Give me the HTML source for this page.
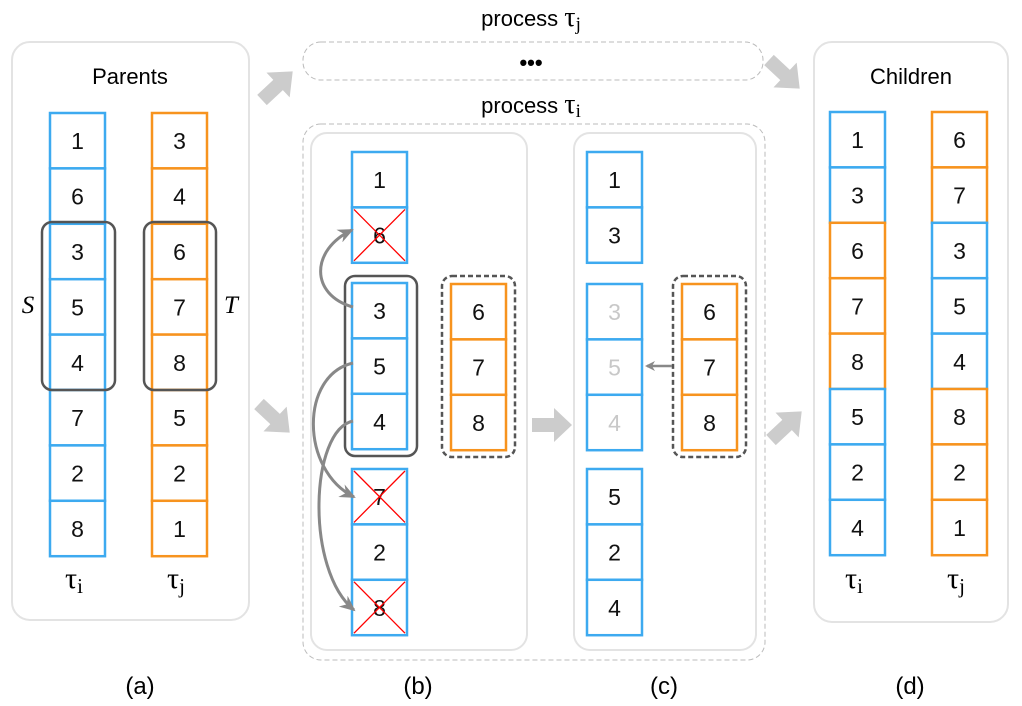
<!DOCTYPE html>
<html><head><meta charset="utf-8"><style>
body{margin:0;background:#fff;}
svg{display:block;font-family:"Liberation Sans",sans-serif;}
</style></head><body>
<svg id="s" width="1022" height="706" viewBox="0 0 1022 706">
<defs>
<marker id="ah" markerWidth="10" markerHeight="10" refX="8" refY="5" orient="auto" markerUnits="userSpaceOnUse"><path d="M0,0 L10,5 L0,10 L3,5 Z" fill="#888"/></marker>
<marker id="ah2" markerWidth="16" markerHeight="14" refX="14" refY="7" orient="auto" markerUnits="userSpaceOnUse"><path d="M0,0 L16,7 L0,14 L5,7 Z" fill="#888"/></marker>
</defs>
<rect x="12" y="42" width="237" height="578" rx="18" fill="none" stroke="#e3e3e3" stroke-width="2"/>
<rect x="814" y="42" width="194" height="580" rx="18" fill="none" stroke="#e3e3e3" stroke-width="2"/>
<rect x="303" y="42" width="460" height="38" rx="18" fill="none" stroke="#bbb" stroke-width="1" stroke-dasharray="5,3"/>
<rect x="303" y="124" width="462" height="536" rx="18" fill="none" stroke="#bbb" stroke-width="1" stroke-dasharray="5,3"/>
<rect x="311" y="133" width="216" height="517" rx="16" fill="none" stroke="#e3e3e3" stroke-width="2"/>
<rect x="574" y="133" width="182" height="517" rx="16" fill="none" stroke="#e3e3e3" stroke-width="2"/>
<text x="130" y="84" font-size="22" text-anchor="middle">Parents</text>
<text x="911" y="84" font-size="22" text-anchor="middle">Children</text>
<text x="531" y="26" font-size="22" text-anchor="middle">process <tspan font-family="Liberation Serif" font-size="28">τ</tspan><tspan font-family="Liberation Serif" font-size="19" dy="4">j</tspan></text>
<text x="531" y="113" font-size="22" text-anchor="middle">process <tspan font-family="Liberation Serif" font-size="28">τ</tspan><tspan font-family="Liberation Serif" font-size="19" dy="4">i</tspan></text>
<text x="531" y="70" font-size="22" font-weight="bold" text-anchor="middle">•••</text>
<g id="cells"></g>
<rect x="42" y="222" width="73" height="168" rx="10" fill="none" stroke="#555" stroke-width="2.5"/>
<rect x="144" y="222" width="72" height="168" rx="10" fill="none" stroke="#555" stroke-width="2.5"/>
<rect x="345" y="276" width="72" height="180" rx="10" fill="none" stroke="#555" stroke-width="2.5"/>
<rect x="442" y="276" width="73" height="181" rx="10" fill="none" stroke="#555" stroke-width="2.5" stroke-dasharray="5,3"/>
<rect x="673" y="276" width="73" height="181" rx="10" fill="none" stroke="#555" stroke-width="2.5" stroke-dasharray="5,3"/>
<text x="28" y="313" font-size="25" font-style="italic" font-family="Liberation Serif" text-anchor="middle">S</text>
<text x="231" y="313" font-size="25" font-style="italic" font-family="Liberation Serif" text-anchor="middle">T</text>
<path d="M353,307 C310,295 310,250 352,230" fill="none" stroke="#888" stroke-width="3" marker-end="url(#ah2)"/>
<path d="M353,363 C300,375 300,470 354,497" fill="none" stroke="#888" stroke-width="3" marker-end="url(#ah2)"/>
<path d="M353,421 C310,430 305,570 354,610" fill="none" stroke="#888" stroke-width="3" marker-end="url(#ah2)"/>
<path d="M672,366 L647,366" fill="none" stroke="#888" stroke-width="2.5" marker-end="url(#ah)"/>
<g fill="#cccccc">
<path d="M0,-7 L22,-7 L22,-17 L42,0 L22,17 L22,7 L0,7 Z" transform="translate(262,100) rotate(-43)"/>
<path d="M0,-7 L22,-7 L22,-17 L42,0 L22,17 L22,7 L0,7 Z" transform="translate(259,404) rotate(43)"/>
<path d="M0,-7 L22,-7 L22,-17 L40,0 L22,17 L22,7 L0,7 Z" transform="translate(532,425)"/>
<path d="M0,-7 L22,-7 L22,-17 L42,0 L22,17 L22,7 L0,7 Z" transform="translate(771,440) rotate(-43)"/>
<path d="M0,-7 L22,-7 L22,-17 L42,0 L22,17 L22,7 L0,7 Z" transform="translate(769,60) rotate(43)"/>
</g>
<g font-size="24" text-anchor="middle">
<text x="140" y="694">(a)</text>
<text x="418" y="694">(b)</text>
<text x="664" y="694">(c)</text>
<text x="910" y="694">(d)</text>
</g>
<g font-family="Liberation Serif" font-size="30" text-anchor="middle">
<text x="74" y="588">τ<tspan font-size="21" dy="5">i</tspan></text>
<text x="176" y="588">τ<tspan font-size="21" dy="5">j</tspan></text>
<text x="854" y="588">τ<tspan font-size="21" dy="5">i</tspan></text>
<text x="956" y="588">τ<tspan font-size="21" dy="5">j</tspan></text>
</g>
</svg>
<script>
var B="#3daaf0",O="#f7931e",H=55.4;
var colA1=[1,6,3,5,4,7,2,8], colA1c="bbbbbbbb";
var colA2=[3,4,6,7,8,5,2,1], colA2c="oooooooo";
var colD1=[1,3,6,7,8,5,2,4], colD1c="bbooobbb";
var colD2=[6,7,3,5,4,8,2,1], colD2c="oobbbooo";
var cols=[
 [50,113,colA1,colA1c,"",'a-tau-i'],
 [152,113,colA2,colA2c,"",'a-tau-j'],
 [830,112,colD1,colD1c,"",'d-tau-i'],
 [932,112,colD2,colD2c,"",'d-tau-j'],
 [352,152,[1,6],"bb","-x",'b-top'],
 [352,283,[3,5,4],"bbb","--",'b-mid'],
 [352,469,[7,2,8],"bbb","x-x",'b-bottom'],
 [451,284,[6,7,8],"ooo","",'b-orange'],
 [587,152,[1,3],"bb","",'c-top'],
 [587,284,[3,5,4],"bbb","ggg",'c-mid'],
 [587,469,[5,2,4],"bbb","",'c-bottom'],
 [682,284,[6,7,8],"ooo","",'c-orange']
];
var g=document.getElementById('cells'),NS="http://www.w3.org/2000/svg";
cols.forEach(function(c){
 c[2].forEach(function(v,i){
  var y=c[1]+i*H,col=c[3][i]=='b'?B:O,f=c[4][i]||'';
  var r=document.createElementNS(NS,'rect');
  r.setAttribute('x',c[0]);r.setAttribute('y',y);r.setAttribute('width',55);r.setAttribute('height',H);
  r.setAttribute('fill','#fff');r.setAttribute('stroke',col);r.setAttribute('stroke-width',2.5);
  
  
  g.appendChild(r);
  var t=document.createElementNS(NS,'text');
  t.setAttribute('x',c[0]+27.5);t.setAttribute('y',y+H/2+8.5);t.setAttribute('font-size',23);t.setAttribute('text-anchor','middle');
  t.setAttribute('fill',f=='g'?'#c8c8c8':'#111');t.textContent=v;
  
  
  g.appendChild(t);
  if(f=='x'){
   var p=document.createElementNS(NS,'path');
   p.setAttribute('d','M'+(c[0]+2)+','+(y+2)+' L'+(c[0]+53)+','+(y+H-2)+' M'+(c[0]+53)+','+(y+2)+' L'+(c[0]+2)+','+(y+H-2));
   p.setAttribute('stroke','#f00');p.setAttribute('stroke-width',1.3);
   
   
   g.appendChild(p);
  }
 });
});
</script>
</body></html>
